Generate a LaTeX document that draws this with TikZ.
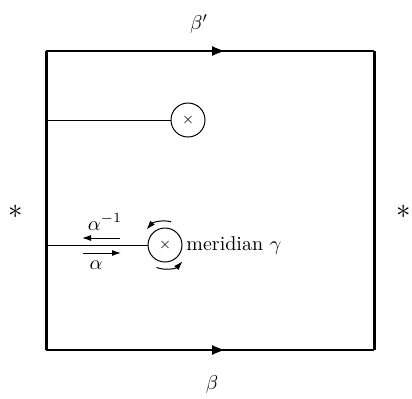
\documentclass[tikz,border=0pt]{standalone}
\usetikzlibrary{arrows.meta,decorations.markings}
\begin{document}
\begin{tikzpicture}[x=0.5pt,y=-0.5pt,
  side/.style={line width=1.5pt},
  edge/.style={line width=0.6pt,postaction={decorate},decoration={markings,mark=at position 0.546 with {\arrow{Latex[length=6.5pt,width=5pt]}}}},
  thin/.style={line width=0.5pt},
  hole/.style={circle,draw,line width=0.5pt,minimum size=17pt,inner sep=0pt,font=\scriptsize},
  lbl/.style={inner sep=0pt},
  tip/.style={-{Latex[length=4.5pt,width=3pt]},line width=0.5pt}]
\useasboundingbox (0,0) rectangle (412,398);
\coordinate (tl) at (46,51);
\coordinate (tr) at (374,51);
\coordinate (bl) at (46,350);
\coordinate (br) at (374,350);
\draw[side] (tl) -- (bl);
\draw[side] (tr) -- (br);
\draw[edge] (tl) -- (tr);
\draw[edge] (bl) -- (br);
\node[lbl] (bp) at (199,24) {$\beta'$};
\node[lbl] (b) at (212,384) {$\beta$};
\node[lbl,font=\Large] (s1) at (16,212) {$\ast$};
\node[lbl,font=\Large] (s2) at (404,212) {$\ast$};
\node[hole] (h1) at (188,120) {$\times$};
\node[hole] (h2) at (165,245) {$\times$};
\coordinate (l1) at (46,120);
\coordinate (l2) at (46,245);
\draw[thin] (l1) -- (h1.west);
\draw[thin] (l2) -- (h2.west);
\coordinate (a1s) at (120,238);
\coordinate (a1e) at (82,238);
\coordinate (a2s) at (83,253);
\coordinate (a2e) at (121,253);
\draw[tip] (a1s) -- (a1e);
\draw[tip] (a2s) -- (a2e);
\node[lbl] (ai) at (105,222) {$\alpha^{-1}$};
\node[lbl] (a) at (96,265) {$\alpha$};
\node[lbl,anchor=west] (m) at (186,245) {meridian $\gamma$};
\draw[tip] (h2.center) ++(-75:24) arc[start angle=-75,end angle=-140,radius=24];
\draw[tip] (h2.center) ++(-249:24) arc[start angle=-249,end angle=-317,radius=24];
\end{tikzpicture}
\end{document}
